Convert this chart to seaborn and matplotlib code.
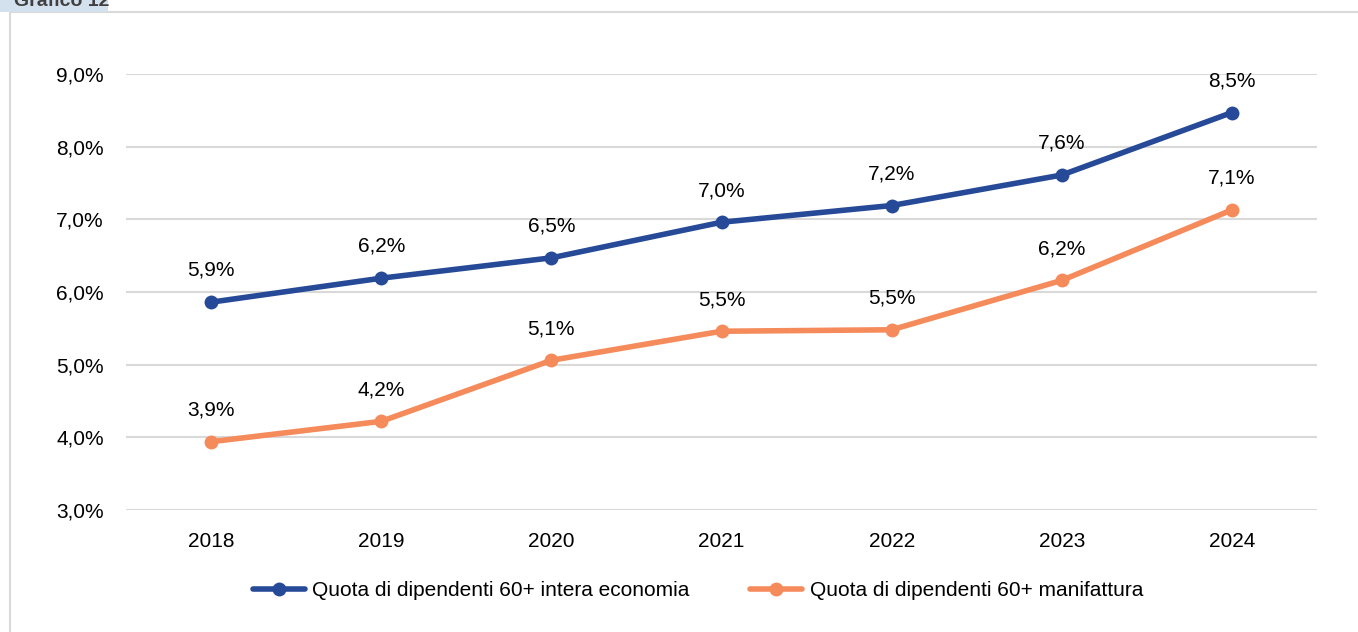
import pandas as pd
import matplotlib
matplotlib.use("Agg")
import matplotlib.pyplot as plt
import seaborn as sns
from matplotlib.patches import Rectangle
from matplotlib.lines import Line2D

years = ["2018", "2019", "2020", "2021", "2022", "2023", "2024"]
quota_economia = [5.86, 6.19, 6.47, 6.96, 7.19, 7.61, 8.47]
quota_manifattura = [3.94, 4.22, 5.06, 5.46, 5.48, 6.16, 7.13]
series_names = ["Quota di dipendenti 60+ intera economia", "Quota di dipendenti 60+ manifattura"]
colors = ["#264a97", "#f58a5b"]

df = pd.DataFrame({
    "anno": years * 2,
    "valore": quota_economia + quota_manifattura,
    "serie": [series_names[0]] * 7 + [series_names[1]] * 7,
})

sns.set_style("white")
plt.rcParams["font.family"] = ["Liberation Sans", "DejaVu Sans"]
plt.rcParams["text.color"] = "black"

fig = plt.figure(figsize=(13.58, 6.32), dpi=100)
ax = fig.add_axes([126 / 1358, 1 - 510 / 632, (1317 - 126) / 1358, (510 - 74) / 632])

sns.lineplot(data=df, x="anno", y="valore", hue="serie", palette=colors,
             marker="o", markersize=10, markeredgewidth=0, linewidth=4,
             ax=ax, legend=False, sort=False)

# etichette dei valori
for vals in [quota_economia, quota_manifattura]:
    for i, v in enumerate(vals):
        ax.annotate(f"{v:.1f}".replace(".", ",") + "%", (i, v), xytext=(0, 16),
                    textcoords="offset points", ha="center", va="bottom", fontsize=15,
                    color="black")

ax.set_ylim(3, 9)
ax.set_xlim(-0.5, 6.5)
ax.set_yticks([3, 4, 5, 6, 7, 8, 9])
ax.set_yticklabels([f"{t},0%" for t in range(3, 10)])
ax.grid(axis="y", color="#d9d9d9", linewidth=1.5)
ax.set_axisbelow(True)
for s in ax.spines.values():
    s.set_visible(False)
ax.tick_params(axis="both", length=0, labelsize=15, labelcolor="black")
ax.tick_params(axis="y", pad=16)
ax.tick_params(axis="x", pad=16)
ax.set_xlabel("")
ax.set_ylabel("")

handles = [Line2D([0], [0], color=c, lw=4, marker="o", markersize=10, markeredgewidth=0) for c in colors]
fig.legend(handles, series_names, loc="center", bbox_to_anchor=(0.514, 1 - 591 / 632),
           ncol=2, frameon=False, fontsize=15, handlelength=2.5, handletextpad=0.35,
           columnspacing=2.9, labelcolor="black")

# cornice e linguetta "Grafico 12"
fig.patches.append(Rectangle((10 / 1358, -0.05), 1.1, 1.05 - 12 / 632, transform=fig.transFigure,
                             fill=False, edgecolor="#d9d9d9", linewidth=1.5))
fig.patches.append(Rectangle((0, 1 - 12 / 632), 108 / 1358, 12 / 632, transform=fig.transFigure,
                             facecolor="#d3e0ee", edgecolor="none"))
fig.text(14 / 1358, 1 - 1 / 632, "Grafico 12", fontsize=14, fontweight="bold",
         color="#404040", va="center", ha="left")

fig.savefig("out.png", dpi=100)
